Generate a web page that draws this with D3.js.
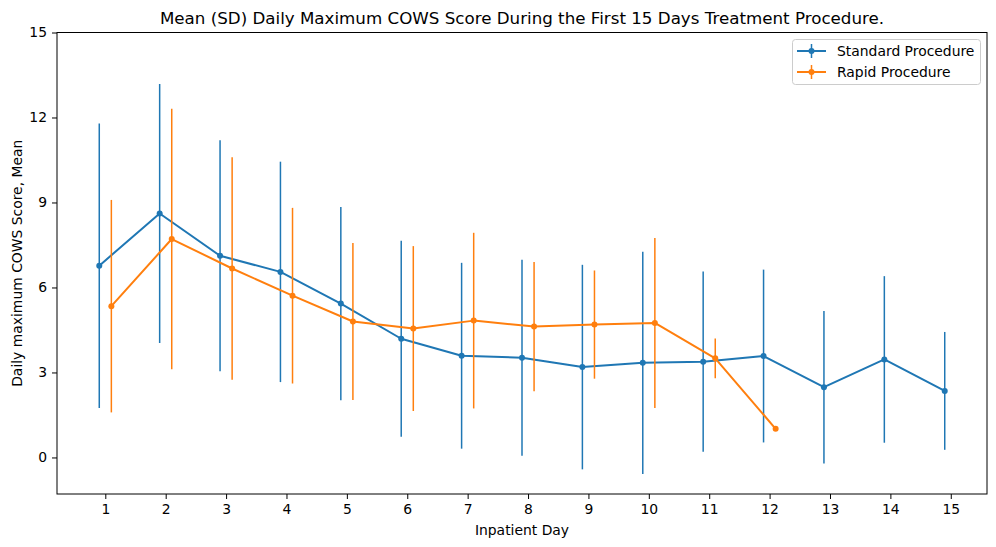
<!DOCTYPE html>
<html>
<head>
<meta charset="utf-8">
<script src="https://cdn.jsdelivr.net/npm/d3@7"></script>
<style>
  body { margin: 0; background: #fff; }
  text { font-family: "DejaVu Sans", sans-serif; fill: #000; }
</style>
</head>
<body>
<svg width="996" height="547"></svg>
<script>
// values
var days = [1, 2, 3, 4, 5, 6, 7, 8, 9, 10, 11, 12, 13, 14, 15]
var standardMean = [6.77, 8.61, 7.12, 6.55, 5.43, 4.19, 3.59, 3.52, 3.19, 3.34, 3.38, 3.58, 2.48, 3.46, 2.35]
var standardSD = [5.02, 4.57, 4.08, 3.89, 3.41, 3.46, 3.28, 3.46, 3.61, 3.92, 3.18, 3.05, 2.69, 2.94, 2.08]
var rapidMean = [5.34, 7.71, 6.67, 5.71, 4.8, 4.55, 4.83, 4.62, 4.69, 4.75, 3.5, 1.01]
var rapidSD = [3.75, 4.6, 3.93, 3.1, 2.77, 2.91, 3.1, 2.28, 1.91, 3.0, 0.7, 0]
var yTicks = [0, 3, 6, 9, 12, 15]

var screen = {left: 57, right: 987, top: 32.5, bottom: 494}
var svg = d3.select("svg")

var xScale = d3.scaleLinear().domain([0.2, 15.6]).range([screen.left, screen.right])
var yScale = d3.scaleLinear().domain([-1.29, 15]).range([screen.bottom, screen.top])

var series = [
    {name: "Standard Procedure", color: "#1f77b4", offset: -0.1, mean: standardMean, sd: standardSD},
    {name: "Rapid Procedure", color: "#ff7f0e", offset: 0.1, mean: rapidMean, sd: rapidSD}
]

var line = d3.line()
    .x(function (p) { return xScale(p.x) })
    .y(function (p) { return yScale(p.y) })

series.forEach(function (s) {
    var points = s.mean.map(function (m, i) {
        return {x: days[i] + s.offset, y: m, sd: s.sd[i]}
    })
    var g = svg.append("g")
    g.selectAll("line.err")
        .data(points.filter(function (p) { return p.sd > 0 }))
        .enter()
        .append("line")
        .attr("x1", function (p) { return xScale(p.x) })
        .attr("x2", function (p) { return xScale(p.x) })
        .attr("y1", function (p) { return yScale(p.y - p.sd) })
        .attr("y2", function (p) { return yScale(p.y + p.sd) })
        .attr("stroke", s.color)
        .attr("stroke-width", 1.5)
    g.append("path")
        .attr("d", line(points))
        .attr("fill", "none")
        .attr("stroke", s.color)
        .attr("stroke-width", 2)
        .attr("stroke-linejoin", "round")
    g.selectAll("circle")
        .data(points)
        .enter()
        .append("circle")
        .attr("cx", function (p) { return xScale(p.x) })
        .attr("cy", function (p) { return yScale(p.y) })
        .attr("r", 3)
        .attr("fill", s.color)
})

// axes
var xAxis = d3.axisBottom(xScale).tickValues(days).tickSize(5).tickPadding(5).tickFormat(d3.format("d"))
var yAxis = d3.axisLeft(yScale).tickValues(yTicks).tickSize(5).tickPadding(5).tickFormat(d3.format("d"))

svg.append("g").attr("transform", "translate(0," + screen.bottom + ")").call(xAxis)
    .call(function (g) { g.select(".domain").remove() })
svg.append("g").attr("transform", "translate(" + screen.left + ",0)").call(yAxis)
    .call(function (g) { g.select(".domain").remove() })
svg.selectAll(".tick text").style("font-size", "13.9px").style("font-family", "DejaVu Sans")
svg.selectAll(".tick line").attr("stroke", "#000").attr("stroke-width", 1)

svg.append("rect")
    .attr("x", screen.left).attr("y", screen.top)
    .attr("width", screen.right - screen.left).attr("height", screen.bottom - screen.top)
    .attr("fill", "none").attr("stroke", "#000").attr("stroke-width", 1)

// labels
svg.append("text")
    .attr("x", (screen.left + screen.right) / 2).attr("y", 24)
    .attr("text-anchor", "middle").style("font-size", "16.7px")
    .text("Mean (SD) Daily Maximum COWS Score During the First 15 Days Treatment Procedure.")
svg.append("text")
    .attr("x", (screen.left + screen.right) / 2).attr("y", 535)
    .attr("text-anchor", "middle").style("font-size", "13.9px")
    .text("Inpatient Day")
svg.append("text")
    .attr("transform", "translate(22," + (screen.top + screen.bottom) / 2 + ") rotate(-90)")
    .attr("text-anchor", "middle").style("font-size", "13.9px")
    .text("Daily maximum COWS Score, Mean")

// legend
var legend = svg.append("g")
legend.append("rect")
    .attr("x", 792.5).attr("y", 39.5).attr("width", 188).attr("height", 45)
    .attr("rx", 3).attr("fill", "#fff").attr("fill-opacity", 0.8)
    .attr("stroke", "#ccc").attr("stroke-width", 1)
series.forEach(function (s, i) {
    var cy = 51 + i * 21
    legend.append("line")
        .attr("x1", 797).attr("x2", 826).attr("y1", cy).attr("y2", cy)
        .attr("stroke", s.color).attr("stroke-width", 2)
    legend.append("line")
        .attr("x1", 811.5).attr("x2", 811.5).attr("y1", cy - 7).attr("y2", cy + 7)
        .attr("stroke", s.color).attr("stroke-width", 1.5)
    legend.append("circle")
        .attr("cx", 811.5).attr("cy", cy).attr("r", 3).attr("fill", s.color)
    legend.append("text")
        .attr("x", 837).attr("y", cy + 5).style("font-size", "13.9px")
        .text(s.name)
})
</script>
</body>
</html>
